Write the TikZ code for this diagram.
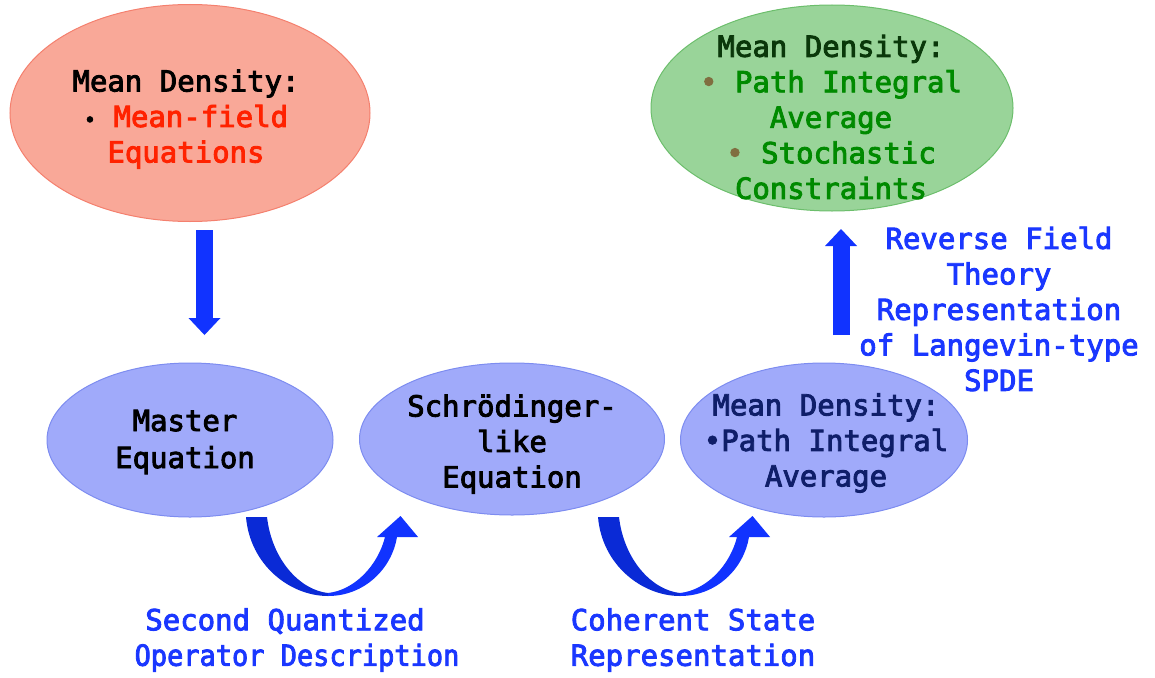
\documentclass[tikz,border=0pt]{standalone}
\usepackage{fontspec}
\newfontfamily\dmono{DejaVu Sans Mono}[FakeBold=3]
\usetikzlibrary{shapes.geometric,arrows.meta}
\definecolor{redfill}{RGB}{249,168,152}
\definecolor{redline}{RGB}{244,128,110}
\definecolor{redtext}{RGB}{255,34,0}
\definecolor{greenfill}{RGB}{153,212,153}
\definecolor{greenline}{RGB}{108,190,108}
\definecolor{greentext}{RGB}{0,138,0}
\definecolor{darkgreen}{RGB}{10,55,10}
\definecolor{olive}{RGB}{128,110,64}
\definecolor{bluefill}{RGB}{160,170,250}
\definecolor{blueline}{RGB}{125,140,240}
\definecolor{navy}{RGB}{15,30,105}
\definecolor{arrowblue}{RGB}{17,51,255}
\definecolor{arrowdark}{RGB}{10,42,214}
\definecolor{labelblue}{RGB}{26,55,255}
\tikzset{
  ell/.style={ellipse, inner sep=0pt, line width=1pt},
  txt/.style={align=center, inner sep=0pt},
  bigarrow/.style={draw=arrowblue, line width=17pt,
    -{Triangle[width=32pt,length=17pt,line width=0pt]}},
}
\begin{document}
\begin{tikzpicture}[x=1pt,y=-1pt,font=\dmono\fontsize{29}{35.5}\selectfont]
\useasboundingbox (0,0) rectangle (1155,677);
% ellipses
\node[ell, fill=redfill, draw=redline, minimum width=360pt, minimum height=217pt] (red) at (190,113) {};
\node[ell, fill=greenfill, draw=greenline, minimum width=362pt, minimum height=206pt] (green) at (832,108) {};
\node[ell, fill=bluefill, draw=blueline, minimum width=286pt, minimum height=154pt] (master) at (190,440) {};
\node[ell, fill=bluefill, draw=blueline, minimum width=305pt, minimum height=152pt] (schr) at (512,439) {};
\node[ell, fill=bluefill, draw=blueline, minimum width=287pt, minimum height=154pt] (pint) at (824,440) {};
% texts
\node[txt] (redtxt) at (186,119) {Mean Density:\\{\color{black}\scalebox{0.7}{\textbullet}} \textcolor{redtext}{Mean-field}\\\textcolor{redtext}{Equations}};
\node[txt, text=greentext] (greentxt) at (831,117) {\textcolor{darkgreen}{Mean Density:}\\\textcolor{olive}{\textbullet} Path Integral\\Average\\\textcolor{olive}{\textbullet} Stochastic\\Constraints};
\node[txt] (mastertxt) at (185,442) {Master\\[1.5pt]Equation};
\node[txt] (schrtxt) at (512,444) {Schrödinger-\\like\\Equation};
\node[txt, text=navy] (pinttxt) at (826,443) {Mean Density:\\\textbullet Path Integral\\Average};
\node[txt, text=labelblue] (revlabel) at (999,309) {Reverse Field\\Theory\\Representation\\of Langevin-type\\SPDE};
\node[txt, text=labelblue] (sqlabel) at (285,640) {Second Quantized\\\hspace*{24pt}\scalebox{0.93}[1]{Operator Description}};
\node[txt, text=labelblue] (cslabel) at (693,640) {Coherent State\\Representation};
% straight arrows
\coordinate (d1) at (204.5,230);
\coordinate (d2) at (204.5,335);
\draw[bigarrow] (d1) -- (d2);
\coordinate (u1) at (841,335);
\coordinate (u2) at (841,229);
\draw[bigarrow] (u1) -- (u2);
% curved arrows
\foreach \s in {0,352}{
\begin{scope}[xshift=\s]
\fill[arrowdark] (246,517) .. controls (250,565) and (290,596) .. (328,596)
  -- (328,593) .. controls (300,590) and (272,560) .. (267,517) -- cycle;
\fill[arrowblue] (328,596) .. controls (365,596) and (392,568) .. (397,537)
  -- (418,537) -- (400.5,516) -- (377,537) -- (385,537)
  .. controls (378,565) and (355,590) .. (328,593) -- cycle;
\end{scope}}
\end{tikzpicture}
\end{document}
